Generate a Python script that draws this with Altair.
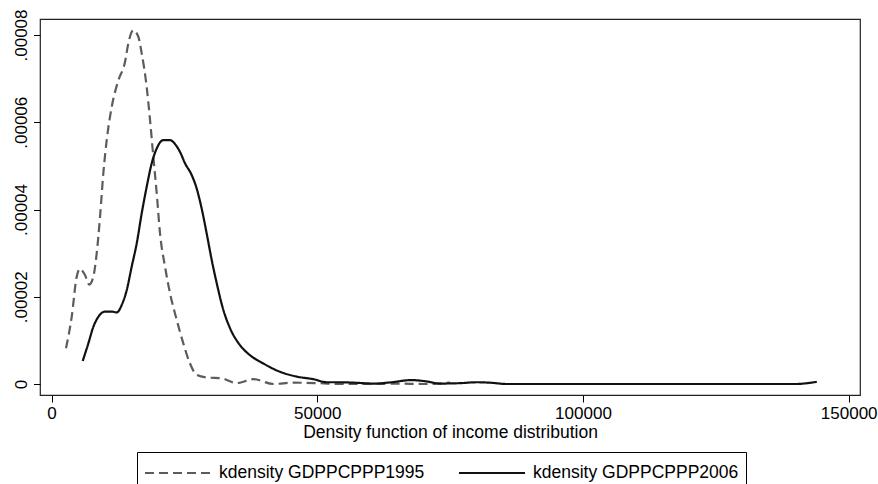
import altair as alt
import pandas as pd

series_names = ["kdensity GDPPCPPP1995", "kdensity GDPPCPPP2006"]

# 1995 kernel density (dashed)
x_1995 = [2730, 3800, 4740, 5360, 5680, 6300, 7110, 7870, 8500, 9130, 9750, 10390,
          11330, 12580, 13830, 14460, 15400, 16340, 16970, 17910, 18540, 19160,
          19800, 20420, 21360, 22300, 23560, 24800, 26060, 27320, 29200, 32030,
          34850, 37980, 41740, 45500, 50000, 55000, 60000, 65000, 70000, 75000]
y_1995 = [8.2e-6, 1.54e-5, 2.46e-5, 2.64e-5, 2.61e-5, 2.50e-5, 2.28e-5, 2.46e-5,
          2.99e-5, 3.83e-5, 4.83e-5, 5.59e-5, 6.35e-5, 6.96e-5, 7.38e-5, 7.81e-5,
          8.11e-5, 7.96e-5, 7.58e-5, 6.81e-5, 6.05e-5, 5.21e-5, 4.37e-5, 3.45e-5,
          2.69e-5, 2.08e-5, 1.47e-5, 9.3e-6, 4.7e-6, 2.1e-6, 1.5e-6, 1.3e-6,
          2e-7, 1.1e-6, 0.0, 3e-7, 2e-7, 0.0, 0.0, 1e-7, 0.0, 3e-7]

# 2006 kernel density (solid)
x_2006 = [5870, 6930, 7870, 8810, 10070, 11330, 12270, 13210, 14150, 15090, 16030,
          16970, 17910, 18860, 19800, 21040, 22300, 23240, 24180, 25120, 26380,
          27320, 28260, 29200, 30150, 31090, 32330, 33590, 35470, 37350, 39860,
          43000, 46140, 49270, 51790, 54290, 57000, 60700, 64000, 67700, 70500,
          73100, 77000, 80000, 82500, 85700, 100000, 120000, 139900, 144000]
y_2006 = [5.27e-6, 9.3e-6, 1.31e-5, 1.54e-5, 1.66e-5, 1.66e-5, 1.64e-5, 1.81e-5,
          2.15e-5, 2.69e-5, 3.22e-5, 3.91e-5, 4.52e-5, 5.06e-5, 5.40e-5, 5.59e-5,
          5.59e-5, 5.50e-5, 5.32e-5, 5.06e-5, 4.79e-5, 4.48e-5, 4.02e-5, 3.45e-5,
          2.84e-5, 2.31e-5, 1.70e-5, 1.28e-5, 8.9e-6, 6.6e-6, 4.7e-6, 2.8e-6,
          1.7e-6, 1.1e-6, 4e-7, 4e-7, 3e-7, 1e-7, 4e-7, 9e-7, 6e-7, 1e-7, 2e-7,
          4e-7, 3e-7, 0.0, 0.0, 0.0, 0.0, 5e-7]

x_ticks = [0, 50000, 100000, 150000]
y_ticks = [0, 0.00002, 0.00004, 0.00006, 0.00008]

df = pd.concat([
    pd.DataFrame({"income": x_1995, "density": y_1995, "series": series_names[0]}),
    pd.DataFrame({"income": x_2006, "density": y_2006, "series": series_names[1]}),
], ignore_index=True)

FONT = "Liberation Sans"

legend = alt.Legend(
    title=None, orient="none", legendX=97, legendY=433, direction="horizontal",
    symbolType="stroke", symbolSize=4356, symbolStrokeWidth=2,
    labelFont=FONT, labelFontSize=17.5, labelColor="black", labelOffset=7,
    labelLimit=400, columnPadding=33, padding=7, strokeColor="black",
    clipHeight=28, cornerRadius=0,
)

chart = alt.Chart(df).mark_line(strokeWidth=2.2, interpolate="monotone").encode(
    x=alt.X("income:Q",
            scale=alt.Scale(domain=[-2164, 152126], nice=False, zero=False),
            axis=alt.Axis(values=x_ticks, format="d", grid=False, domain=False,
                          tickSize=7, tickColor="black", tickWidth=1,
                          labelFont=FONT, labelFontSize=17, labelColor="black",
                          labelPadding=3, labelFlush=False,
                          title="Density function of income distribution",
                          titleFont=FONT, titleFontSize=17.5, titleFontWeight="normal",
                          titleColor="black", titleBaseline="alphabetic", titleY=42)),
    y=alt.Y("density:Q",
            scale=alt.Scale(domain=[-2.521e-6, 8.3668e-5], nice=False, zero=False),
            axis=alt.Axis(values=y_ticks, grid=False, domain=False, title=None,
                          tickSize=6.5, tickColor="black", tickWidth=1,
                          labelFont=FONT, labelFontSize=17, labelColor="black",
                          labelAngle=270, labelAlign="center", labelBaseline="alphabetic",
                          labelPadding=7, labelOverlap=False,
                          labelExpr="datum.value == 0 ? '0' : replace(format(datum.value, '.5f'), '0.', '.')")),
    color=alt.Color("series:N",
                    scale=alt.Scale(domain=series_names, range=["#5c5c5c", "#111111"]),
                    legend=legend),
    strokeDash=alt.StrokeDash("series:N",
                              scale=alt.Scale(domain=series_names, range=[[9, 5], [1, 0]]),
                              legend=legend),
).properties(
    width=820, height=376,
    autosize=alt.AutoSizeParams(type="none"),
    padding={"left": 40, "top": 19, "right": 18, "bottom": 89},
    background="white",
).configure_view(stroke="#222222", strokeWidth=1.2)

chart.save("out.html", embed_options={"renderer": "svg", "actions": False})
